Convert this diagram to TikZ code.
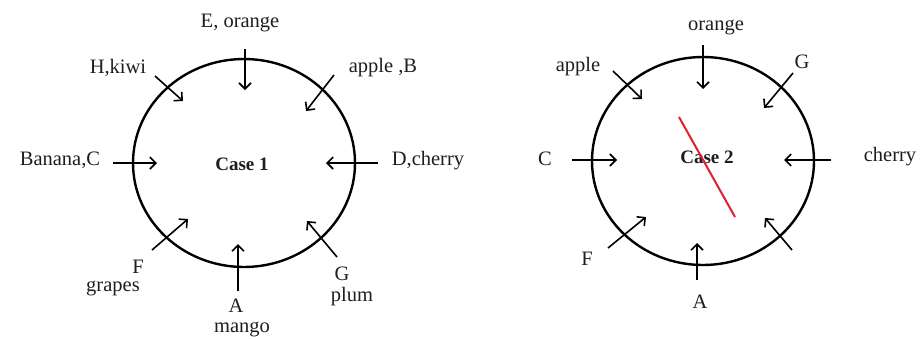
\documentclass[tikz,border=0pt]{standalone}
\usepackage{fontspec}
\setmainfont{Liberation Serif}
\usetikzlibrary{arrows.meta}
\definecolor{cInk}{HTML}{1E1E1E}
\definecolor{cCut}{HTML}{E0202C}

\begin{document}
\begin{tikzpicture}[
    x=1pt, y=-1pt, font=\fontsize{20.5}{23}\selectfont,
    ring/.style={draw=black, line width=2.4pt},
    inarr/.style={-{Straight Barb[length=6pt, width=12pt]}, line width=1.6pt,
                  black},
    lbl/.style={inner sep=0pt, text=cInk},
    blbl/.style={lbl, anchor=base},
    casetxt/.style={inner sep=0pt, font=\fontsize{19}{21}\selectfont\bfseries,
                    text=cInk},
    cut/.style={draw=cCut, line width=2pt},
]
\useasboundingbox (0,0) rectangle (922,338);

% ===================== Case 1 =====================
\draw[ring] (244,163) ellipse [x radius=111, y radius=104];
\node[casetxt] (caseOne) at (242,164) {Case 1};

\node[lbl] (eOrange)  at (240,23)  {E, orange};
\node[lbl] (hKiwi)    at (118,68)  {H,kiwi};
\node[lbl] (appleB)   at (383,68)  {apple ,B};
\node[lbl] (bananaC)  at (60,160)  {Banana,C};
\node[lbl] (dCherry)  at (428,161) {D,cherry};
\node[blbl] (fOne)    at (138,273) {F};
\node[blbl] (grapes)  at (113,291) {grapes};
\node[blbl] (gOne)    at (342,280) {G};
\node[blbl] (plum)    at (352,301) {plum};
\node[blbl] (aOne)    at (236,312) {A};
\node[blbl] (mango)   at (242,332) {mango};

\foreach \n/\sx/\sy/\ex/\ey in {
    t/245/49/245/90, tl/155/76/183/101, tr/334/75/306/111,
    l/113/163/157/163, r/378/163/326/163,
    bl/152/250/188/219, br/337/257/307/221, b/238/291/238/244} {
  \coordinate (p1\n) at (\sx,\sy);
  \coordinate (q1\n) at (\ex,\ey);
  \draw[inarr] (p1\n) -- (q1\n);
}

% ===================== Case 2 =====================
\draw[ring] (703,161) ellipse [x radius=111, y radius=104];
\node[casetxt] (caseTwo) at (707,157) {Case 2};

\node[lbl] (orange)   at (716,27)  {orange};
\node[lbl] (apple)    at (578,67)  {apple};
\node[lbl] (gTwo)     at (802,62)  {G};
\node[lbl] (cTwo)     at (545,159) {C};
\node[lbl] (cherry)   at (890,157) {cherry};
\node[blbl] (fTwo)    at (587,265) {F};
\node[blbl] (aTwo)    at (700,308) {A};

\foreach \n/\sx/\sy/\ex/\ey in {
    t/703/45/703/89, tl/613/71/642/99, tr/793/73/764/108,
    l/572/160/617/160, r/831/160/784/160,
    bl/608/248/646/217, br/792/250/765/218, b/697/280/697/243} {
  \coordinate (p2\n) at (\sx,\sy);
  \coordinate (q2\n) at (\ex,\ey);
  \draw[inarr] (p2\n) -- (q2\n);
}

% trazo rojo sobre el caso 2
\coordinate (cutA) at (679,117);
\coordinate (cutB) at (735,217);
\draw[cut] (cutA) -- (cutB);

\end{tikzpicture}
\end{document}
